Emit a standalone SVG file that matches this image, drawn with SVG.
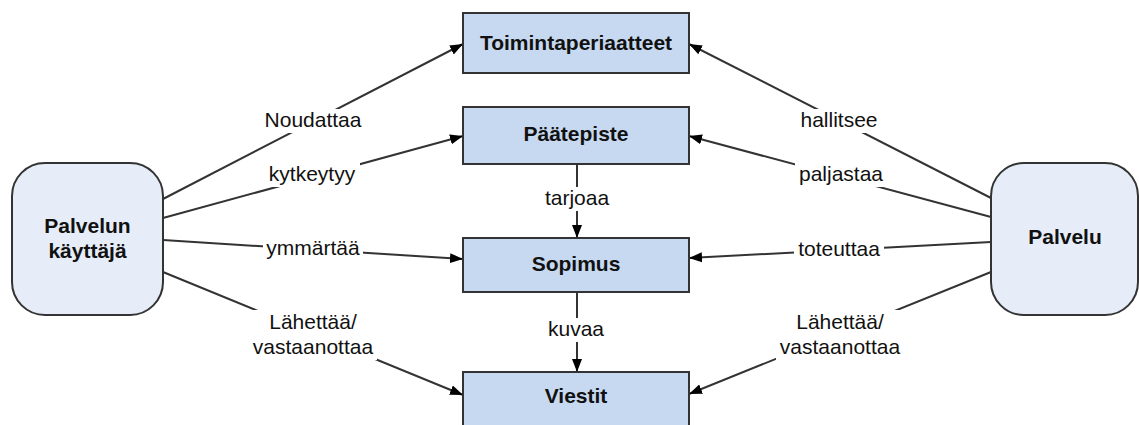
<svg xmlns="http://www.w3.org/2000/svg" width="1139" height="425" viewBox="0 0 1139 425">
<style>
  .box { fill: #c6d9f0; stroke: #333; stroke-width: 2; }
  .actor { fill: #e6edf8; stroke: #333; stroke-width: 2; }
  .title { font-family: "Liberation Sans", Arial, sans-serif; font-size: 21px; font-weight: bold; fill: #111; text-anchor: middle; }
  .lbl { font-family: "Liberation Sans", Arial, sans-serif; font-size: 21px; fill: #111; text-anchor: middle; }
  .edge { stroke: #333; stroke-width: 2; fill: none; marker-end: url(#arr); }
  .bg { fill: #fff; }
</style>
<defs>
  <marker id="arr" markerUnits="userSpaceOnUse" markerWidth="14" markerHeight="12" refX="13" refY="5" orient="auto" viewBox="0 0 14 10">
    <path d="M0,0 L13,5 L0,10 z" fill="#000"/>
  </marker>
</defs>
<rect width="1139" height="425" fill="#fff"/>

<g id="connectors">
  <line class="edge" x1="163" y1="199" x2="463" y2="44"/>
  <line class="edge" x1="163" y1="218" x2="463" y2="136"/>
  <line class="edge" x1="163" y1="240" x2="463" y2="259"/>
  <line class="edge" x1="163" y1="272" x2="463" y2="395"/>
  <line class="edge" x1="991" y1="198" x2="689" y2="44"/>
  <line class="edge" x1="991" y1="217" x2="689" y2="136"/>
  <line class="edge" x1="991" y1="242" x2="689" y2="258"/>
  <line class="edge" x1="991" y1="272" x2="689" y2="394"/>
  <line class="edge" x1="577" y1="164" x2="577" y2="238"/>
  <line class="edge" x1="577" y1="292" x2="577" y2="372"/>

  <rect class="bg" x="262" y="109" width="103" height="24"/>
  <text class="lbl" x="313" y="127">Noudattaa</text>
  <rect class="bg" x="265" y="162" width="95" height="25"/>
  <text class="lbl" x="312" y="181">kytkeytyy</text>
  <rect class="bg" x="263" y="237" width="100" height="24"/>
  <text class="lbl" x="313" y="255">ymmärtää</text>
  <rect class="bg" x="250" y="310" width="127" height="50"/>
  <text class="lbl" x="313" y="329">Lähettää/</text>
  <text class="lbl" x="313" y="354">vastaanottaa</text>

  <rect class="bg" x="797" y="109" width="84" height="24"/>
  <text class="lbl" x="839" y="127">hallitsee</text>
  <rect class="bg" x="795" y="162" width="92" height="25"/>
  <text class="lbl" x="841" y="181">paljastaa</text>
  <rect class="bg" x="794" y="238" width="90" height="24"/>
  <text class="lbl" x="839" y="256">toteuttaa</text>
  <rect class="bg" x="776" y="310" width="127" height="50"/>
  <text class="lbl" x="840" y="329">Lähettää/</text>
  <text class="lbl" x="840" y="354">vastaanottaa</text>

  <rect class="bg" x="541" y="187" width="73" height="24"/>
  <text class="lbl" x="577" y="205">tarjoaa</text>
  <rect class="bg" x="544" y="318" width="64" height="24"/>
  <text class="lbl" x="576" y="336">kuvaa</text>
</g>

<g id="toimintaperiaatteet">
  <rect class="box" x="463" y="13" width="226" height="60"/>
  <text class="title" x="576" y="50">Toimintaperiaatteet</text>
</g>
<g id="paatepiste">
  <rect class="box" x="463" y="107" width="226" height="57"/>
  <text class="title" x="576" y="141">Päätepiste</text>
</g>
<g id="sopimus">
  <rect class="box" x="463" y="238" width="226" height="54"/>
  <text class="title" x="576" y="271">Sopimus</text>
</g>
<g id="viestit">
  <rect class="box" x="463" y="372" width="226" height="60"/>
  <text class="title" x="576" y="403">Viestit</text>
</g>
<g id="palvelun-kayttaja">
  <rect class="actor" x="12" y="163" width="151" height="152" rx="33" ry="33"/>
  <text class="title" x="87.5" y="233">Palvelun</text>
  <text class="title" x="87.5" y="258">käyttäjä</text>
</g>
<g id="palvelu">
  <rect class="actor" x="991" y="163" width="147" height="152" rx="33" ry="33"/>
  <text class="title" x="1065" y="244">Palvelu</text>
</g>
</svg>
